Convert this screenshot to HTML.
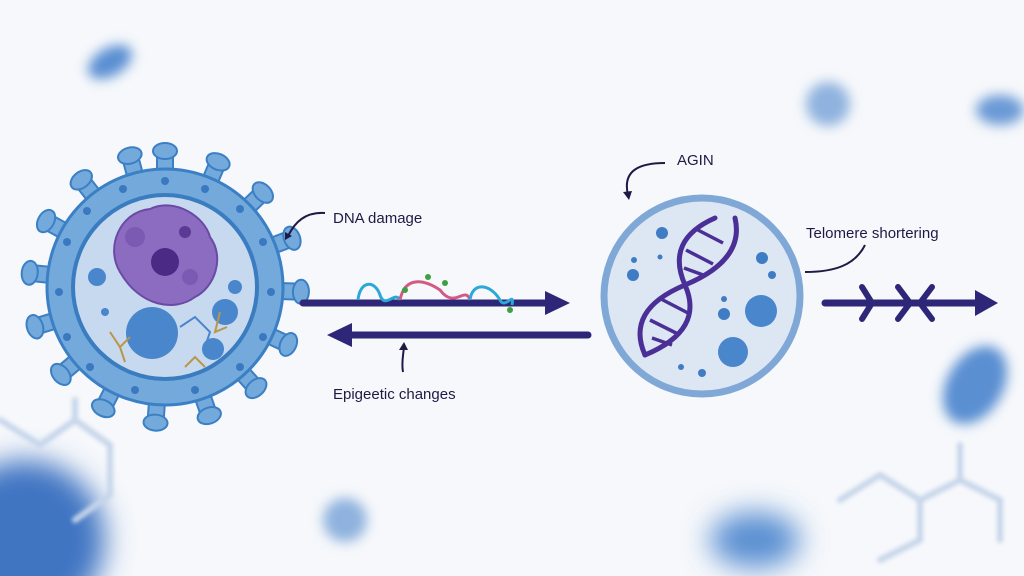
<!DOCTYPE html>
<html><head><style>
html,body{margin:0;padding:0;background:#f6f8fb;width:1024px;height:576px;overflow:hidden;}
svg{display:block}
text{font-family:"Liberation Sans",sans-serif;fill:#1e1a45;}
</style></head><body>
<svg width="1024" height="576" viewBox="0 0 1024 576" xmlns="http://www.w3.org/2000/svg">
<defs>
<filter id="b1" x="-100%" y="-100%" width="300%" height="300%"><feGaussianBlur stdDeviation="6"/></filter>
<filter id="b2" x="-100%" y="-100%" width="300%" height="300%"><feGaussianBlur stdDeviation="14"/></filter>
<filter id="b3" x="-20%" y="-20%" width="140%" height="140%"><feGaussianBlur stdDeviation="2"/></filter>
<g id="spk"><rect x="-8" y="-136" width="16" height="32" rx="6" fill="#74a9dc" stroke="#3b7fc4" stroke-width="2"/><ellipse cx="0" cy="-136" rx="12" ry="8" fill="#74a9dc" stroke="#3b7fc4" stroke-width="2"/></g>
</defs>
<rect width="1024" height="576" fill="#f6f8fb"/>
<!-- background blobs -->
<ellipse cx="110" cy="62" rx="24" ry="14" fill="#5a8fd2" filter="url(#b1)" transform="rotate(-30 110 62)"/>
<circle cx="828" cy="104" r="22" fill="#8fb2de" filter="url(#b1)"/>
<ellipse cx="1000" cy="110" rx="24" ry="15" fill="#6a9ad6" filter="url(#b1)"/>
<ellipse cx="975" cy="385" rx="28" ry="42" fill="#5a8fd2" filter="url(#b1)" transform="rotate(30 975 385)"/>
<circle cx="25" cy="540" r="80" fill="#3f74c2" filter="url(#b2)"/>
<circle cx="345" cy="520" r="22" fill="#8fb2de" filter="url(#b1)"/>
<ellipse cx="755" cy="540" rx="45" ry="28" fill="#5a8fd2" filter="url(#b2)"/>
<g stroke="#c6d5ea" stroke-width="6" fill="none" stroke-linecap="round" filter="url(#b3)">
<path d="M0 420 L40 445 L75 420 L110 445 L110 495 L75 520 M75 420 L75 400"/>
<path d="M840 500 L880 475 L920 500 L920 540 L880 560 M920 500 L960 480 L1000 500 L1000 540 M960 480 L960 445"/>
</g>
<!-- left cell -->
<g transform="translate(165 287)">
<use href="#spk" transform="rotate(0)"/><use href="#spk" transform="rotate(23)"/><use href="#spk" transform="rotate(46)"/><use href="#spk" transform="rotate(69)"/><use href="#spk" transform="rotate(92)"/><use href="#spk" transform="rotate(115)"/><use href="#spk" transform="rotate(138)"/><use href="#spk" transform="rotate(161)"/><use href="#spk" transform="rotate(184)"/><use href="#spk" transform="rotate(207)"/><use href="#spk" transform="rotate(230)"/><use href="#spk" transform="rotate(253)"/><use href="#spk" transform="rotate(276)"/><use href="#spk" transform="rotate(299)"/><use href="#spk" transform="rotate(322)"/><use href="#spk" transform="rotate(345)"/>
<circle r="118" fill="#74a9dc" stroke="#3b7fc4" stroke-width="3"/>
<g fill="#3a78c0"><circle cx="0" cy="-106" r="4"/><circle cx="40" cy="-98" r="4"/><circle cx="-42" cy="-98" r="4"/><circle cx="75" cy="-78" r="4"/><circle cx="-78" cy="-76" r="4"/><circle cx="98" cy="-45" r="4"/><circle cx="-98" cy="-45" r="4"/><circle cx="106" cy="5" r="4"/><circle cx="-106" cy="5" r="4"/><circle cx="98" cy="50" r="4"/><circle cx="-98" cy="50" r="4"/><circle cx="75" cy="80" r="4"/><circle cx="-75" cy="80" r="4"/><circle cx="30" cy="103" r="4"/><circle cx="-30" cy="103" r="4"/></g>
<circle r="92" fill="#c6d9ee" stroke="#3a7cc0" stroke-width="4"/>
<path d="M-45 -15 C-60 -40 -45 -75 -15 -78 C10 -90 40 -70 45 -50 C60 -30 50 0 30 10 C10 25 -25 20 -45 -15Z" fill="#8c6cc0" stroke="#6a4aa5" stroke-width="2"/>
<circle cx="0" cy="-25" r="14" fill="#4a2a85"/><circle cx="20" cy="-55" r="6" fill="#5b3a95"/>
<circle cx="-30" cy="-50" r="10" fill="#7a5ab3"/><circle cx="25" cy="-10" r="8" fill="#7a5ab3"/>
<circle cx="-13" cy="46" r="26" fill="#4a86cc"/><circle cx="60" cy="25" r="13" fill="#4a86cc"/><circle cx="70" cy="0" r="7" fill="#4a86cc"/><circle cx="48" cy="62" r="11" fill="#4a86cc"/><circle cx="-68" cy="-10" r="9" fill="#4a86cc"/><circle cx="-60" cy="25" r="4" fill="#4a86cc"/>
<path d="M-55 45 L-45 60 L-35 50 M-45 60 L-40 75 M20 80 L30 70 L40 80 M55 25 L50 45 L62 40" stroke="#b8964a" stroke-width="2" fill="none"/>
<path d="M15 40 L30 30 L45 45 L40 60" stroke="#4a86cc" stroke-width="2" fill="none"/>
</g>
<!-- DNA damage -->
<path d="M325 213 C305 212 295 222 288 236" stroke="#1e1a45" stroke-width="2" fill="none"/><path d="M285 240 l0 -8 l7 4z" fill="#1e1a45"/>
<text x="333" y="223" font-size="15">DNA damage</text>
<!-- arrows -->
<line x1="303" y1="303" x2="550" y2="303" stroke="#2e2777" stroke-width="7" stroke-linecap="round"/>
<path d="M545 291 L570 303 L545 315 Z" fill="#2e2777"/>
<g fill="none" stroke-width="3">
<path d="M358 300 C360 280 375 280 380 295 C385 310 395 290 400 300" stroke="#2aa8d8"/>
<path d="M400 300 C405 275 425 280 440 290 C455 310 465 285 470 300" stroke="#d45a84"/>
<path d="M470 300 C472 282 490 283 500 300 C505 310 515 290 512 305" stroke="#2aa8d8"/>
</g>
<g fill="#3ea040"><circle cx="405" cy="290" r="3"/><circle cx="428" cy="277" r="3"/><circle cx="445" cy="283" r="3"/><circle cx="510" cy="310" r="3"/></g>
<line x1="588" y1="335" x2="345" y2="335" stroke="#2e2777" stroke-width="7" stroke-linecap="round"/>
<path d="M352 323 L327 335 L352 347 Z" fill="#2e2777"/>
<path d="M403 372 C401 362 404 352 404 345" stroke="#1e1a45" stroke-width="2" fill="none"/><path d="M399 350 l5 -8 l4 8z" fill="#1e1a45"/>
<text x="333" y="399" font-size="15">Epigeetic changes</text>
<!-- right circle -->
<circle cx="702" cy="296" r="98" fill="#dde7f3" stroke="#7fa8d6" stroke-width="7"/>
<g fill="#3f7cc4"><circle cx="662" cy="233" r="6"/><circle cx="633" cy="275" r="6"/><circle cx="634" cy="260" r="3"/><circle cx="660" cy="257" r="2.5"/><circle cx="762" cy="258" r="6"/><circle cx="772" cy="275" r="4"/><circle cx="724" cy="314" r="6"/><circle cx="724" cy="299" r="3"/><circle cx="681" cy="367" r="3"/><circle cx="702" cy="373" r="4"/></g>
<circle cx="761" cy="311" r="16" fill="#4a86cc"/><circle cx="733" cy="352" r="15" fill="#4a86cc"/>
<g stroke="#4a2f96" stroke-width="3.5"><line x1="723" y1="243" x2="696" y2="229"/><line x1="713" y1="264" x2="686" y2="250"/><line x1="706" y1="276" x2="684" y2="268"/><line x1="688" y1="313" x2="661" y2="299"/><line x1="678" y1="334" x2="650" y2="320"/><line x1="672" y1="345" x2="652" y2="338"/></g>
<g stroke="#4a2f96" stroke-width="5" fill="none" stroke-linecap="round">
<path d="M735 218 Q745 260 685 285 Q625 310 645 355"/>
<path d="M715 218 Q665 240 685 285 Q705 330 645 355"/>
</g>
<!-- AGIN -->
<path d="M665 163 C640 163 622 170 628 195" stroke="#1e1a45" stroke-width="2" fill="none"/><path d="M623 192 l9 -1 l-3 9z" fill="#1e1a45"/>
<text x="677" y="165" font-size="15">AGIN</text>
<!-- telomere -->
<text x="806" y="238" font-size="15">Telomere shortering</text>
<path d="M865 245 C855 265 835 272 805 272" stroke="#1e1a45" stroke-width="2" fill="none"/>
<line x1="825" y1="303" x2="980" y2="303" stroke="#2e2777" stroke-width="7" stroke-linecap="round"/>
<path d="M975 290 L998 303 L975 316 Z" fill="#2e2777"/>
<g stroke="#2e2777" stroke-width="6" fill="none" stroke-linecap="round">
<path d="M862 287 L872 303 L862 319"/><path d="M898 287 L910 303 L898 319"/><path d="M932 287 L920 303 L932 319"/>
</g>
</svg>
</body></html>
